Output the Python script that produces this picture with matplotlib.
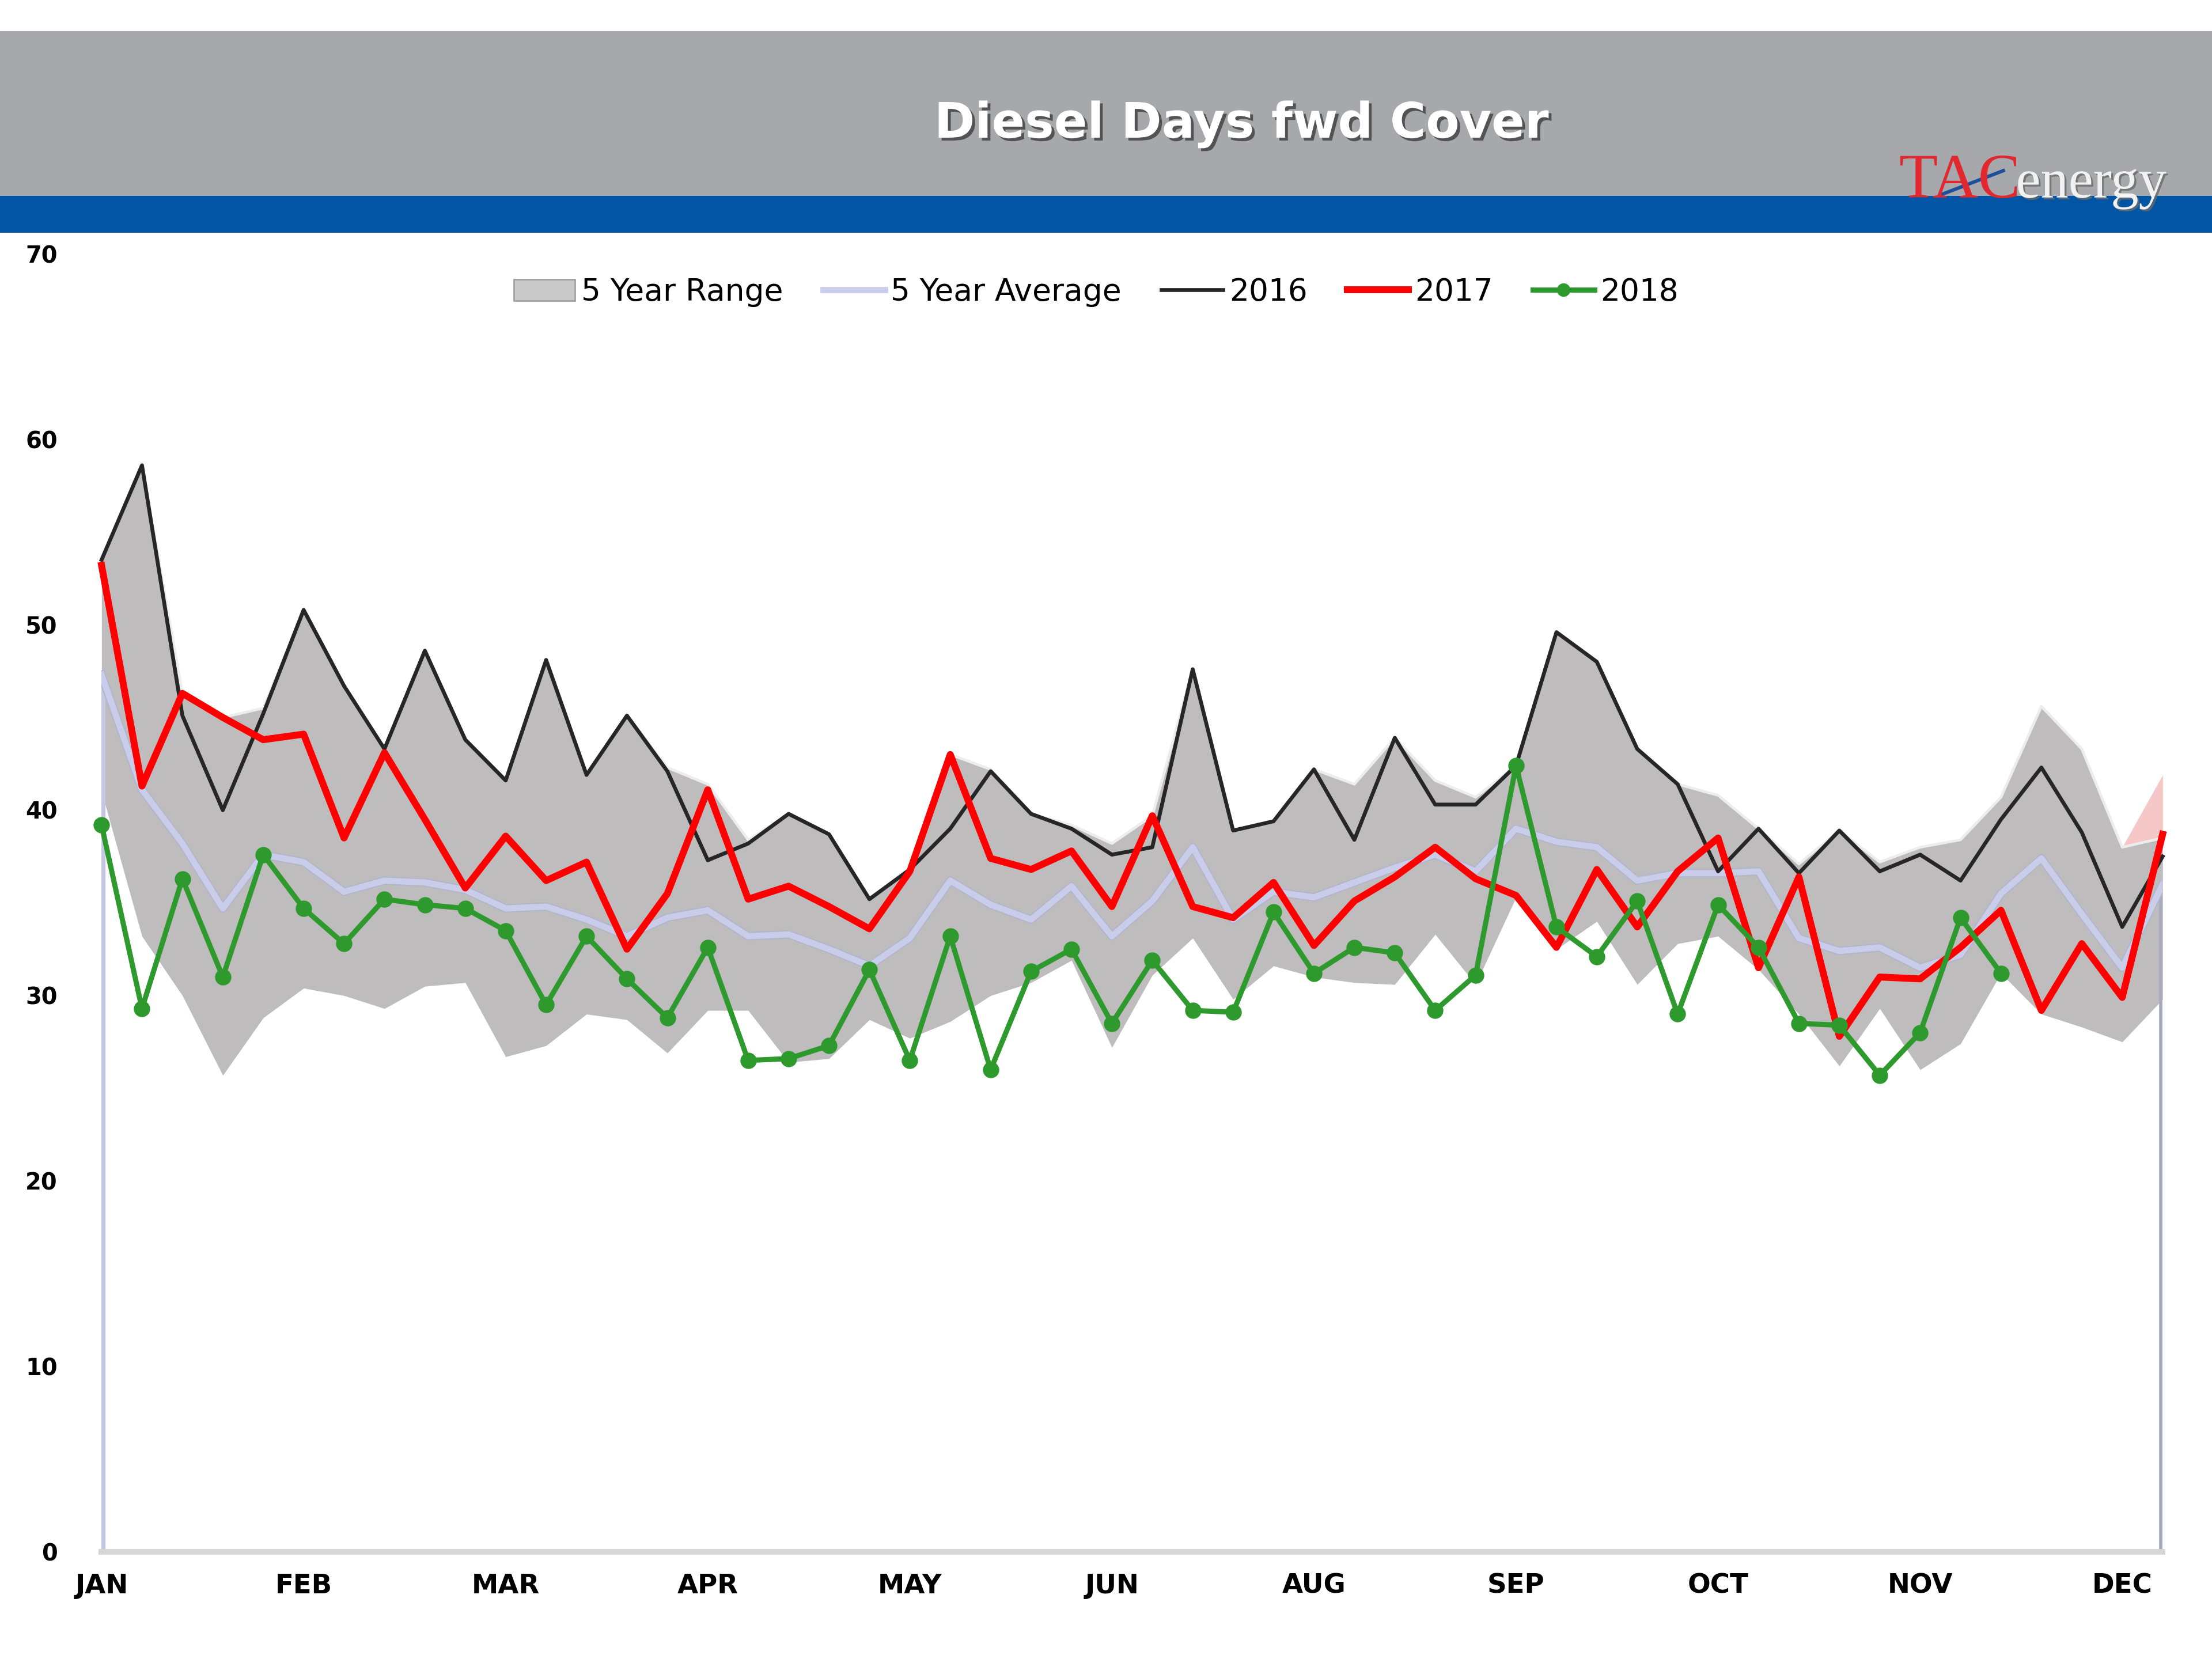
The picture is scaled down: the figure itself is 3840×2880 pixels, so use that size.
import matplotlib
matplotlib.use('Agg')
import matplotlib.pyplot as plt
import matplotlib.patheffects as pe
from matplotlib.patches import Rectangle, Patch
from matplotlib.lines import Line2D
import numpy as np

# weekly values (52 weeks)
range_low = [41.0, 33.2, 30.0, 25.7, 28.8, 30.4, 30.0, 29.3, 30.5, 30.7,
             26.7, 27.3, 29.0, 28.7, 26.9, 29.2, 29.2, 26.4, 26.6, 28.7,
             27.7, 28.6, 30.0, 30.7, 31.9, 27.2, 31.1, 33.1, 29.8, 31.6,
             31.0, 30.7, 30.6, 33.3, 30.6, 35.3, 32.5, 34.0, 30.6, 32.8,
             33.2, 31.4, 29.0, 26.2, 29.3, 26.0, 27.4, 31.2, 29.0, 28.3,
             27.5, 29.8]
range_high = [53.5, 58.6, 46.3, 45.0, 45.5, 50.8, 46.7, 43.3, 48.6, 43.8,
              41.6, 48.1, 41.9, 45.1, 42.3, 41.4, 38.4, 39.8, 38.7, 35.2,
              36.8, 43.0, 42.2, 39.8, 39.2, 38.2, 39.7, 47.6, 38.9, 39.4,
              42.2, 41.4, 43.9, 41.6, 40.7, 42.4, 49.6, 48.0, 43.3, 41.4,
              40.8, 39.0, 37.1, 38.9, 37.2, 38.0, 38.4, 40.7, 45.6, 43.3,
              38.0, 38.5]
avg5 = [47.3, 41.1, 38.2, 34.7, 37.6, 37.2, 35.6, 36.2, 36.1, 35.7,
        34.7, 34.8, 34.1, 33.2, 34.2, 34.6, 33.2, 33.3, 32.5, 31.6,
        33.1, 36.2, 34.9, 34.1, 35.9, 33.2, 35.1, 38.0, 34.1, 35.6,
        35.3, 36.1, 36.9, 37.6, 36.7, 39.0, 38.3, 38.0, 36.2, 36.6,
        36.6, 36.7, 33.1, 32.4, 32.6, 31.5, 32.2, 35.5, 37.4, 34.4,
        31.5, 36.0]
y2016 = [53.5, 58.6, 45.1, 40.0, 45.2, 50.8, 46.7, 43.3, 48.6, 43.8,
         41.6, 48.1, 41.9, 45.1, 42.1, 37.3, 38.2, 39.8, 38.7, 35.2,
         36.8, 39.0, 42.1, 39.8, 39.0, 37.6, 38.0, 47.6, 38.9, 39.4,
         42.2, 38.4, 43.9, 40.3, 40.3, 42.4, 49.6, 48.0, 43.3, 41.4,
         36.7, 39.0, 36.6, 38.9, 36.7, 37.6, 36.2, 39.5, 42.3, 38.8,
         33.7, 37.5]
y2017 = [53.2, 41.3, 46.3, 45.0, 43.8, 44.1, 38.5, 43.1, 39.5, 35.8,
         38.6, 36.2, 37.2, 32.5, 35.5, 41.1, 35.2, 35.9, 34.8, 33.6,
         36.7, 43.0, 37.4, 36.8, 37.8, 34.8, 39.7, 34.8, 34.2, 36.1,
         32.7, 35.1, 36.4, 38.0, 36.3, 35.4, 32.6, 36.8, 33.7, 36.7,
         38.5, 31.5, 36.4, 27.8, 31.0, 30.9, 32.6, 34.6, 29.2, 32.8,
         29.9, 38.7]
y2018 = [39.2, 29.3, 36.3, 31.0, 37.6, 34.7, 32.8, 35.2, 34.9, 34.7,
         33.5, 29.5, 33.2, 30.9, 28.8, 32.6, 26.5, 26.6, 27.3, 31.4,
         26.5, 33.2, 26.0, 31.3, 32.5, 28.5, 31.9, 29.2, 29.1, 34.5,
         31.2, 32.6, 32.3, 29.2, 31.1, 42.4, 33.7, 32.1, 35.1, 29.0,
         34.9, 32.6, 28.5, 28.4, 25.7, 28.0, 34.2, 31.2]
# pinkish spike at the end of the range
pink_top = [38.0, 41.9]

months = ['JAN', 'FEB', 'MAR', 'APR', 'MAY', 'JUN', 'AUG', 'SEP', 'OCT', 'NOV', 'DEC']
month_pos = [0, 5, 10, 15, 20, 25, 30, 35, 40, 45, 50]
yticks = [0, 10, 20, 30, 40, 50, 60, 70]

W, H = 1568, 1176


def fx(px):
    return px / W


def fy(py):
    return 1 - py / H


fig = plt.figure(figsize=(16, 12), dpi=240)
fig.patch.set_facecolor('white')

# header bands
fig.add_artist(Rectangle((0, fy(139)), 1, fy(22) - fy(139), transform=fig.transFigure,
                         facecolor='#A7A8AC', edgecolor='none', zorder=0))
fig.add_artist(Rectangle((0, fy(165)), 1, fy(139) - fy(165), transform=fig.transFigure,
                         facecolor='#0254A5', edgecolor='none', zorder=0))

fig.text(fx(880), fy(88), 'Diesel Days fwd Cover', color='white', fontsize=25.5,
         fontweight='bold', ha='center', va='center',
         path_effects=[pe.withSimplePatchShadow(offset=(1.5, -1.5), shadow_rgbFace='#4a4a4a', alpha=0.9)])

# logo
fig.text(fx(1432), fy(140), 'TAC', color='#E0282E', fontsize=33, family='Liberation Serif',
         ha='right', va='baseline')
fig.text(fx(1429), fy(140), 'energy', color='#F2F2F2', fontsize=29, family='Liberation Serif',
         ha='left', va='baseline',
         path_effects=[pe.withSimplePatchShadow(offset=(1, -1), shadow_rgbFace='#6a6a6a', alpha=0.8)])
fig.add_artist(Line2D([fx(1376), fx(1420)], [fy(138), fy(121)], transform=fig.transFigure,
                      color='#1F4E9A', lw=1.8))

ax = fig.add_axes([fx(72), fy(1100), fx(1533) - fx(72), fy(180) - fy(1100)])
x = np.arange(len(avg5))
x18 = np.arange(len(y2018))

# 5 year range band
ax.fill_between(x, range_low, range_high, color='#BEBCBC', lw=0, zorder=1)
ax.plot(x, range_high, color='#EDEDED', lw=1.4, zorder=1.5)
ax.fill_between(x[-2:], range_high[-2:], pink_top, color='#F3B9B9', alpha=0.8, lw=0, zorder=1)

# average with drop lines at both ends
ax.vlines([x[0]], 0, avg5[0], color='#C5C7E3', lw=4, zorder=2)
ax.vlines([x[-1]], 0, avg5[-1], color='#A9ABC0', lw=3.5, zorder=2)
ax.plot(x, avg5, color='#CACDEA', lw=3.2, zorder=2,
        path_effects=[pe.Stroke(linewidth=4.4, foreground='#B3B5CC'), pe.Normal()])

ax.plot(x, y2016, color='#262626', lw=2.0, zorder=3, clip_on=False)
ax.plot(x, y2017, color='#FF0000', lw=3.6, zorder=4, clip_on=False)
ax.plot(x18, y2018, color='#2E9A2E', lw=2.7, marker='o', ms=7.5, zorder=5, clip_on=False)

ax.set_xlim(0, 51)
ax.set_ylim(0, 70)
ax.set_yticks(yticks)
ax.set_yticklabels([str(v) for v in yticks], fontsize=12, fontweight='bold')
ax.set_xticks(month_pos)
ax.set_xticklabels(months, fontsize=14, fontweight='bold')
ax.tick_params(axis='y', length=0, pad=23)
ax.tick_params(axis='x', length=0, pad=11)
for s in ['top', 'right', 'left']:
    ax.spines[s].set_visible(False)
ax.spines['bottom'].set_color('#D6D6D6')
ax.spines['bottom'].set_linewidth(3)
ax.set_facecolor('none')

handles = [
    Patch(facecolor='#C9C9C9', edgecolor='#9E9E9E', lw=0.8),
    Line2D([], [], color='#CACDEA', lw=3.2),
    Line2D([], [], color='#262626', lw=2.0),
    Line2D([], [], color='#FF0000', lw=3.6),
    Line2D([], [], color='#2E9A2E', lw=2.7, marker='o', ms=6),
]
labels = ['5 Year Range', '5 Year Average', '2016', '2017', '2018']
fig.legend(handles, labels, loc='center', bbox_to_anchor=(fx(777), fy(207)), ncol=5,
           frameon=False, fontsize=16, handlelength=2.0, handletextpad=0.2,
           columnspacing=1.3)

fig.savefig('out.png', dpi=240)
